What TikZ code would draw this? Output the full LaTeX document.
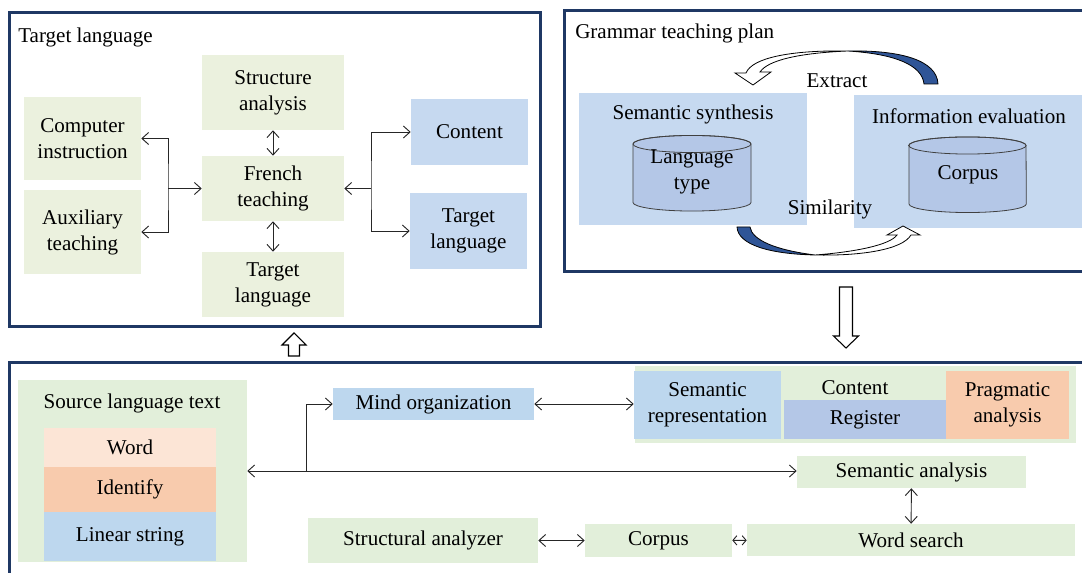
\documentclass[tikz,border=0pt]{standalone}
\usepackage{fontspec}
\setmainfont{Liberation Serif}
\usetikzlibrary{arrows.meta}
\definecolor{framenavy}{RGB}{31,56,100}
\definecolor{softgreen}{RGB}{235,241,222}
\definecolor{palegreen}{RGB}{226,239,218}
\definecolor{softblue}{RGB}{198,217,240}
\definecolor{paleblue}{RGB}{189,215,238}
\definecolor{deepblue}{RGB}{180,199,231}
\definecolor{softpeach}{RGB}{252,229,214}
\definecolor{peach}{RGB}{248,203,173}
\definecolor{ribbonblue}{RGB}{47,85,151}

\begin{document}
\begin{tikzpicture}[x=0.75pt, y=-0.75pt, font=\fontsize{15.8}{19.5}\selectfont,
    >={Straight Barb[length=5pt,width=9pt]},
    boxsize/.style 2 args={minimum width=#1*0.75pt, minimum height=#2*0.75pt}]
    \tikzstyle{panel} = [rectangle, inner sep=0pt]
    \tikzstyle{frame} = [draw=framenavy, line width=2.2pt]
    \tikzstyle{cell} = [rectangle, inner sep=0pt, align=center]
    \tikzstyle{link} = [draw=black!85, line width=0.7pt]
    \tikzstyle{hollow} = [draw=black, line width=0.8pt, fill=white, line join=miter]
    \tikzstyle{ribbon} = [draw=black, line width=0.6pt]
    \tikzstyle{drum} = [fill=deepblue, draw=black!75, line width=0.6pt]

    \useasboundingbox (0,0) rectangle (1082,573);

    % Panels
    \node[panel, boxsize={530}{313}] (tpanel) at (275,169.5) {};
    \node[panel, boxsize={517}{260}] (gpanel) at (823.5,141) {};
    \node[panel, boxsize={1072}{210}] (bpanel) at (546,468) {};
    \draw[frame] (tpanel.north west) rectangle (tpanel.south east);
    \draw[frame] (gpanel.north east) -- (gpanel.north west) -- (gpanel.south west) -- (gpanel.south east);
    \draw[frame] (bpanel.south west) -- (bpanel.north west) -- (bpanel.north east);
    \node[anchor=west, inner sep=0pt] (ttitle) at (18,37) {Target language};
    \node[anchor=west, inner sep=0pt] (gtitle) at (575,33) {Grammar teaching plan};

    % Target language panel
    \node[cell, fill=softgreen, boxsize={117}{83}] (comp) at (82.5,138.5) {Computer\\instruction};
    \node[cell, fill=softgreen, boxsize={117}{84}] (aux) at (82.5,232) {Auxiliary\\teaching};
    \node[cell, fill=softgreen, boxsize={142}{75}] (struct) at (273,92.5) {Structure\\analysis};
    \node[cell, fill=softgreen, boxsize={142}{65}] (french) at (273,188.5) {French\\teaching};
    \node[cell, fill=softgreen, boxsize={142}{65}] (tlang) at (273,284.5) {Target\\language};
    \node[cell, fill=softblue, boxsize={117}{66}] (content) at (469.5,132) {Content};
    \node[cell, fill=softblue, boxsize={117}{76}] (tlangb) at (468.5,231) {Target\\language};
    \coordinate (jleft) at (168,188.5);
    \coordinate (jright) at (371,188.5);

    \draw[link,<->] (comp.east) -| (jleft) |- (aux.east);
    \draw[link,->] (jleft) -- (french.west);
    \draw[link,<->] (content.west) -| (jright) |- (tlangb.west);
    \draw[link,->] (jright) -- (french.east);
    \draw[link,<->] (struct) -- (french);
    \draw[link,<->] (french) -- (tlang);

    % Grammar teaching plan panel
    \node[cell, fill=softblue, boxsize={228}{132}] (synth) at (693,159) {};
    \node[cell, fill=softblue, boxsize={228}{133}] (info) at (968,161.5) {};
    \node (synthlbl) at (693,114) {Semantic synthesis};
    \node (infolbl) at (969,116) {Information evaluation};
    \filldraw[drum] (633,144) -- (633,202.5) arc[start angle=180, end angle=360, x radius=44.25pt, y radius=6.4pt] -- (751,144) arc[start angle=0, end angle=180, x radius=44.25pt, y radius=6.4pt] -- cycle;
    \draw[drum, fill=none] (692,144) ellipse[x radius=44.25pt, y radius=6.4pt];
    \filldraw[drum] (909,145.5) -- (909,204) arc[start angle=180, end angle=360, x radius=44pt, y radius=6.4pt] -- (1026,145.5) arc[start angle=0, end angle=180, x radius=44pt, y radius=6.4pt] -- cycle;
    \draw[drum, fill=none] (967.5,145.5) ellipse[x radius=44pt, y radius=6.4pt];
    \node[align=center] (ltype) at (692,172) {Language\\type};
    \node (corpus) at (968,175) {Corpus};
    \node (extract) at (837,81) {Extract};
    \node (similar) at (830,209) {Similarity};

    % Curved arrows
    \filldraw[ribbon, fill=ribbonblue] (938,84) .. controls (937,60) and (900,50) .. (848,51) .. controls (895,54) and (922,65) .. (924,84) -- cycle;
    \filldraw[ribbon, fill=white] (848,51) .. controls (790,50) and (752,58) .. (746,73) -- (735,73) -- (753,85) -- (771,72) -- (760,72) .. controls (768,60) and (800,53) .. (848,51) -- cycle;
    \filldraw[ribbon, fill=ribbonblue] (737,227) .. controls (738,245) and (770,254) .. (815,255) .. controls (775,250) and (752,240) .. (750,227) -- cycle;
    \filldraw[ribbon, fill=white] (815,255) .. controls (860,256) and (902,250) .. (911,235) -- (920,235) -- (903,226) -- (887,235) -- (897,235) .. controls (890,245) and (855,252) .. (815,255) -- cycle;

    % Block arrows between panels
    \coordinate (dtip) at (846,348);
    \coordinate (utip) at (294,333);
    \draw[hollow] (dtip) -- ++(-12.5,-12) -- ++(6,0) -- ++(0,-49) -- ++(13,0) -- ++(0,49) -- ++(6,0) -- cycle;
    \draw[hollow] (utip) -- ++(-12,12) -- ++(6.5,0) -- ++(0,11) -- ++(11,0) -- ++(0,-11) -- ++(6.5,0) -- cycle;

    % Source language panel
    \node[cell, fill=palegreen, boxsize={229}{182}] (source) at (132.5,471) {};
    \node (sourcelbl) at (132,403) {Source language text};
    \node[cell, fill=softpeach, boxsize={172}{39}] (word) at (130,447.5) {Word};
    \node[cell, fill=peach, boxsize={172}{45}] (ident) at (130,489.5) {Identify};
    \node[cell, fill=paleblue, boxsize={172}{49}] (linear) at (130,536.5) {Linear string};
    \node[cell, fill=paleblue, boxsize={201}{32}] (mind) at (433.5,404) {Mind organization};
    \node[cell, fill=palegreen, boxsize={441}{77}] (group) at (855.5,404.5) {};
    \node[cell, fill=paleblue, boxsize={147}{68}] (semrep) at (707.5,405) {Semantic\\representation};
    \node (contentlbl) at (855,388) {Content};
    \node[cell, fill=deepblue, boxsize={162}{39}] (register) at (865,419.5) {Register};
    \node[cell, fill=peach, boxsize={123}{68}] (prag) at (1007.5,405) {Pragmatic\\analysis};
    \node[cell, fill=palegreen, boxsize={229}{32}] (semana) at (911.5,472) {Semantic analysis};
    \node[cell, fill=palegreen, boxsize={328}{32}] (wsearch) at (911,540) {Word search};
    \node[cell, fill=palegreen, boxsize={147}{33}] (corpusb) at (658.5,540.5) {Corpus};
    \node[cell, fill=palegreen, boxsize={230}{45}] (structan) at (423,540.5) {Structural analyzer};
    \coordinate (jbottom) at (306,471);

    \draw[link,<->] (source.east) -- (source.east -| semana.west);
    \draw[link,->] (jbottom) |- (mind.west);
    \draw[link,<->] (mind.east) -- (mind.east -| semrep.west);
    \draw[link,<->] (semana) -- (wsearch);
    \draw[link,<->] (structan) -- (corpusb);
    \draw[link,{Straight Barb[length=3pt,width=7pt]}-{Straight Barb[length=3pt,width=7pt]}] (corpusb) -- (wsearch);
\end{tikzpicture}
\end{document}
